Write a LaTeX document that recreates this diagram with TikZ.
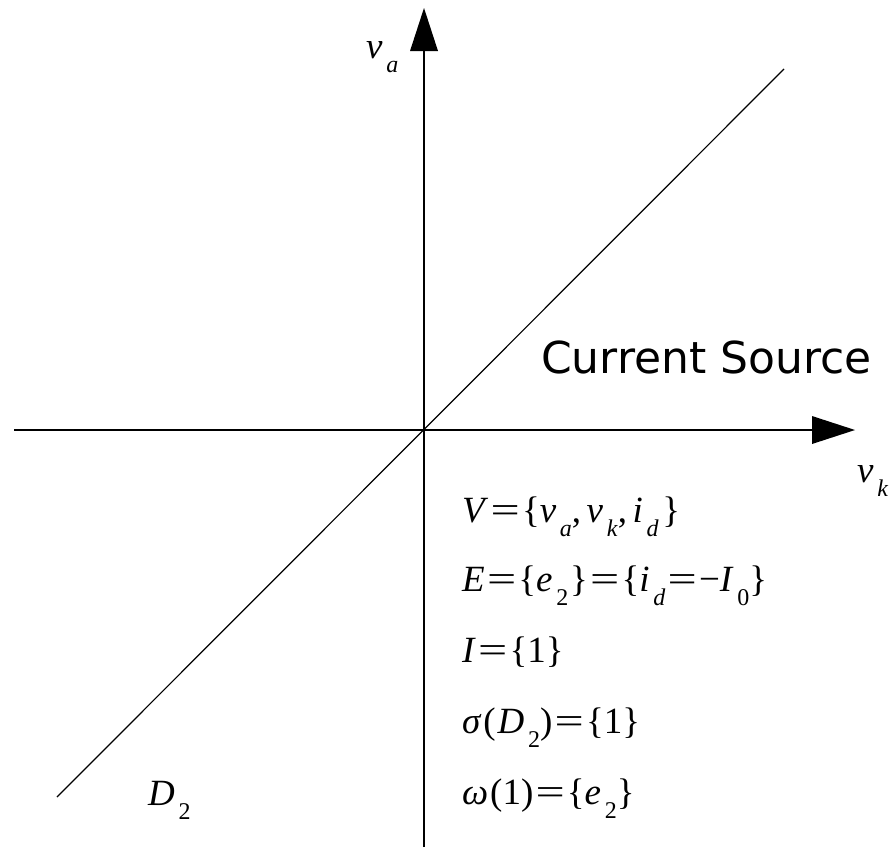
\documentclass[tikz,border=0pt]{standalone}
\usepackage{fontspec}
\setmainfont{Liberation Serif}
\newfontfamily\labsans{DejaVu Sans}
\newcommand{\sbx}[1]{\kern0.1em\raisebox{-0.38em}{\fontsize{24}{24}\selectfont\textit{#1}}}
\newcommand{\sbn}[1]{\kern0.1em\raisebox{-0.38em}{\fontsize{24}{24}\selectfont #1}}
\newcommand{\eqs}{\kern0.06em\scalebox{1.4}[1]{=}\kern0.06em}
\newcommand{\cm}{,\kern0.15em}
\begin{document}
\begin{tikzpicture}[x=1pt,y=-1pt,
  axis/.style={line width=1.2pt},
  head/.style={fill=black},
  eqtext/.style={anchor=base west,inner sep=0pt,font=\fontsize{37}{37}\selectfont},
  axlabel/.style={inner sep=0pt,font=\fontsize{37}{37}\selectfont}]
\useasboundingbox (0,0) rectangle (890,847);
% axes
\coordinate (xl) at (14,430);
\coordinate (xr) at (812,430);
\coordinate (yb) at (424,847);
\coordinate (yt) at (424,51);
\coordinate (dl) at (57,797);
\coordinate (dr) at (784,69);
\draw[axis] (xl) -- (xr);
\draw[axis] (yb) -- (yt);
\draw[axis] (dl) -- (dr);
\fill[head] (812,416) -- (855,430) -- (812,444) -- cycle;
\fill[head] (410,51) -- (424,8) -- (438,51) -- cycle;
% labels
\node[axlabel,anchor=base west] (va) at (366,58) {\textit{v}\sbx{a}};
\node[axlabel,anchor=base west] (vk) at (857,482) {\textit{v}\sbx{k}};
\node[anchor=base west,inner sep=0pt,font=\labsans\fontsize{44}{44}\selectfont] (cs) at (541,373) {Current Source};
\node[eqtext] (e1) at (462,522) {\textit{V}\eqs\{\textit{v}\sbx{a}\cm\textit{v}\sbx{k}\cm\textit{i}\sbx{d}\kern0.1em\}};
\node[eqtext] (e2) at (462,591) {\textit{E}\eqs\{\textit{e}\sbn{2}\kern0.05em\}\eqs\{\textit{i}\sbx{d}\eqs−\textit{I}\sbn{0}\}};
\node[eqtext] (e3) at (462,662) {\textit{I}\eqs\{1\}};
\node[eqtext] (e4) at (462,733) {\textit{σ}\kern0.05em(\kern0.05em\textit{D}\sbn{2})\eqs\{1\}};
\node[eqtext] (e5) at (462,804) {\textit{ω}\kern0.05em(1)\eqs\{\textit{e}\sbn{2}\}};
\node[eqtext] (d2) at (148,805) {\textit{D}\sbn{2}};
\end{tikzpicture}
\end{document}
